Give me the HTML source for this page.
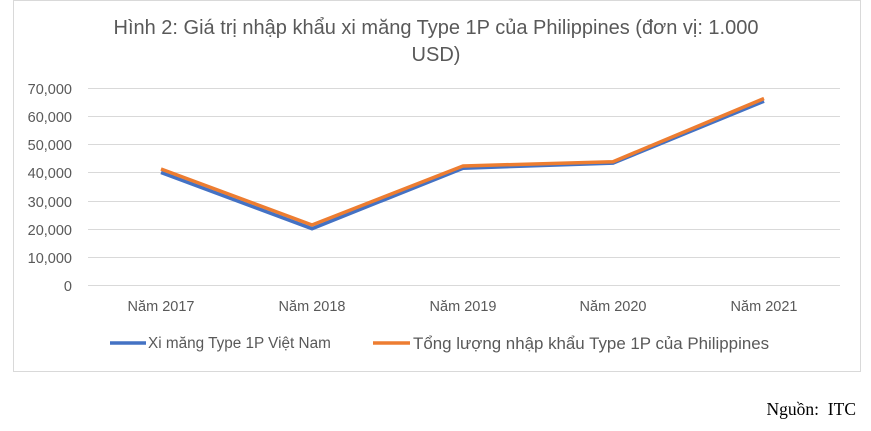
<!DOCTYPE html>
<html><head><meta charset="utf-8"><style>
body{margin:0;background:#fff;width:871px;height:426px;overflow:hidden}
</style></head><body>
<svg width="871" height="426" xmlns="http://www.w3.org/2000/svg" font-family="Liberation Sans, sans-serif">
<rect x="13.5" y="0.5" width="847" height="371" fill="#fff" stroke="#d9d9d9"/>
<text x="436" y="34" font-size="20" fill="#595959" text-anchor="middle">Hình 2: Giá trị nhập khẩu xi măng Type 1P của Philippines (đơn vị: 1.000</text>
<text x="436" y="61" font-size="20" fill="#595959" text-anchor="middle">USD)</text>
<g stroke="#d9d9d9" stroke-width="1">
<line x1="88" x2="840" y1="88.5" y2="88.5"/><line x1="88" x2="840" y1="116.5" y2="116.5"/>
<line x1="88" x2="840" y1="144.5" y2="144.5"/><line x1="88" x2="840" y1="172.5" y2="172.5"/>
<line x1="88" x2="840" y1="201.5" y2="201.5"/><line x1="88" x2="840" y1="229.5" y2="229.5"/>
<line x1="88" x2="840" y1="257.5" y2="257.5"/><line x1="88" x2="840" y1="285.5" y2="285.5"/>
</g>
<g font-size="14.5" fill="#595959" text-anchor="end">
<text x="72" y="94">70,000</text><text x="72" y="122">60,000</text><text x="72" y="150">50,000</text>
<text x="72" y="178">40,000</text><text x="72" y="207">30,000</text><text x="72" y="235">20,000</text>
<text x="72" y="263">10,000</text><text x="72" y="291">0</text>
</g>
<g font-size="14.5" fill="#595959" text-anchor="middle">
<text x="161" y="311">Năm 2017</text><text x="312" y="311">Năm 2018</text><text x="463" y="311">Năm 2019</text>
<text x="613" y="311">Năm 2020</text><text x="764" y="311">Năm 2021</text>
</g>
<polyline fill="none" stroke="#4472c4" stroke-width="3.5" stroke-linejoin="round" points="161,172.5 312,228.7 463,168.2 613,163.1 764,101.2"/>
<polyline fill="none" stroke="#ed7d31" stroke-width="3.5" stroke-linejoin="round" points="161,169 312,225 463,166 613,161.7 764,98.5"/>
<line x1="110" x2="146" y1="343" y2="343" stroke="#4472c4" stroke-width="3.5"/>
<text x="148" y="348" font-size="15.3" fill="#595959">Xi măng Type 1P Việt Nam</text>
<line x1="373" x2="410" y1="343" y2="343" stroke="#ed7d31" stroke-width="3.5"/>
<text x="413" y="349" font-size="16.9" fill="#595959">Tổng lượng nhập khẩu Type 1P của Philippines</text>
<text x="856" y="415" font-size="17.5" fill="#000" text-anchor="end" font-family="Liberation Serif, serif">Nguồn:&#160; ITC</text>
</svg>
</body></html>
